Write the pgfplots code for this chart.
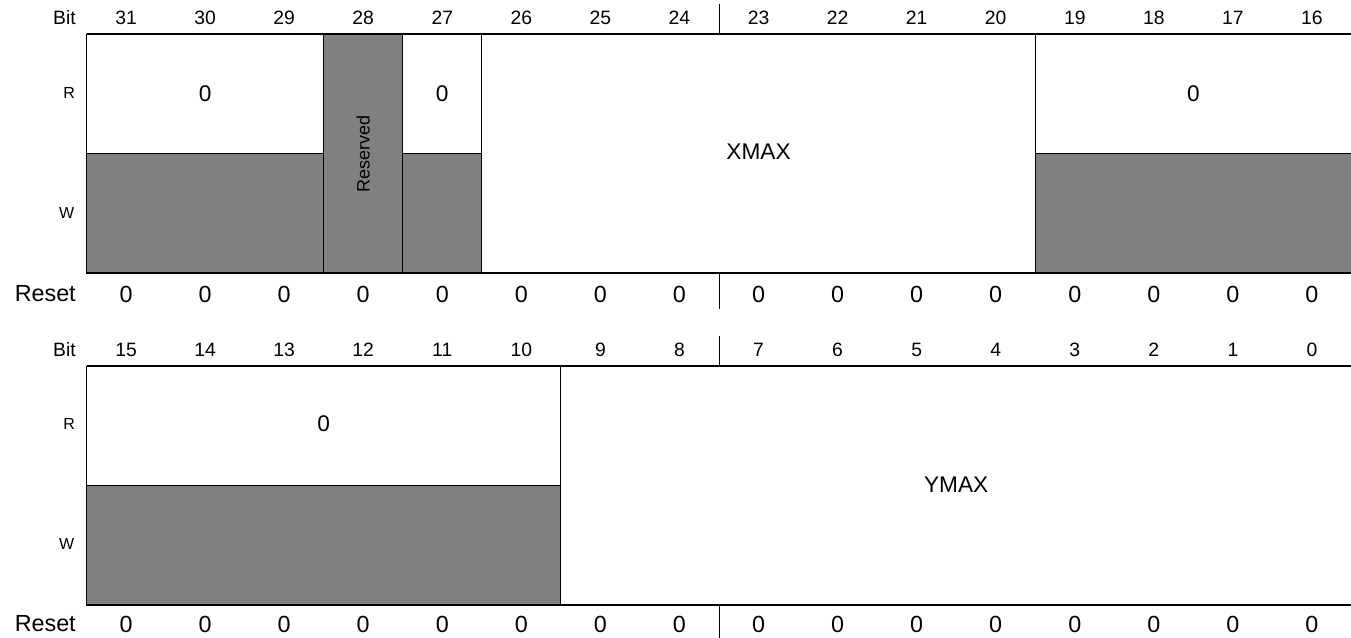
\documentclass[border=0pt]{standalone}
\usepackage{pgfplots}
\pgfplotsset{compat=1.18}
\usepackage{fontspec}
\setmainfont{Liberation Sans}
\definecolor{fieldgray}{HTML}{808080}
\begin{document}
\begin{tikzpicture}
\begin{axis}[width=1013.25pt, height=478.5pt, scale only axis,
  xmin=-1.0941, xmax=15.994, ymin=0, ymax=638, y dir=reverse,
  hide axis, clip=true]
% ---- top register fields (x in bit columns from bit 31, y in px) ----
\addplot[draw=black, line width=0.8pt, fill=white] coordinates {(0,34)(3,34)(3,153.5)(0,153.5)(0,34)};
\addplot[draw=black, line width=0.8pt, fill=fieldgray] coordinates {(0,153.5)(3,153.5)(3,273)(0,273)(0,153.5)};
\addplot[draw=black, line width=0.8pt, fill=fieldgray] coordinates {(3,34)(4,34)(4,273)(3,273)(3,34)};
\addplot[draw=black, line width=0.8pt, fill=white] coordinates {(4,34)(5,34)(5,153.5)(4,153.5)(4,34)};
\addplot[draw=black, line width=0.8pt, fill=fieldgray] coordinates {(4,153.5)(5,153.5)(5,273)(4,273)(4,153.5)};
\addplot[draw=black, line width=0.8pt, fill=white] coordinates {(5,34)(12,34)(12,273)(5,273)(5,34)};
\addplot[draw=black, line width=0.8pt, fill=white] coordinates {(12,34)(16,34)(16,153.5)(12,153.5)(12,34)};
\addplot[draw=black, line width=0.8pt, fill=fieldgray] coordinates {(12,153.5)(16,153.5)(16,273)(12,273)(12,153.5)};
% ---- bottom register fields ----
\addplot[draw=black, line width=0.8pt, fill=white] coordinates {(0,366)(6,366)(6,485.5)(0,485.5)(0,366)};
\addplot[draw=black, line width=0.8pt, fill=fieldgray] coordinates {(0,485.5)(6,485.5)(6,605)(0,605)(0,485.5)};
\addplot[draw=black, line width=0.8pt, fill=white] coordinates {(6,366)(16,366)(16,605)(6,605)(6,366)};
% ---- half-word dividers ----
\addplot[black, line width=0.7pt] coordinates {(8,4)(8,34)};
\addplot[black, line width=0.7pt] coordinates {(8,273)(8,309)};
\addplot[black, line width=0.7pt] coordinates {(8,336)(8,366)};
\addplot[black, line width=0.7pt] coordinates {(8,605)(8,638)};
% ---- bit numbers and reset values ----
\pgfplotsinvokeforeach{0,...,15}{
  \node[font=\fontsize{14.5}{17}\selectfont] at (axis cs:#1+0.5,18) {\pgfmathtruncatemacro\b{31-#1}\b};
  \node[font=\fontsize{14.5}{17}\selectfont] at (axis cs:#1+0.5,349.5) {\pgfmathtruncatemacro\b{15-#1}\b};
  \node[font=\fontsize{17.5}{20}\selectfont] at (axis cs:#1+0.5,294) {0};
  \node[font=\fontsize{17.5}{20}\selectfont] at (axis cs:#1+0.5,624) {0};
}
% ---- row labels ----
\node[anchor=east, inner sep=0pt, font=\fontsize{14.5}{17}\selectfont] at (axis cs:-0.133,18) {Bit};
\node[anchor=east, inner sep=0pt, font=\fontsize{14.5}{17}\selectfont] at (axis cs:-0.133,349.5) {Bit};
\node[anchor=east, inner sep=0pt, font=\fontsize{17.5}{20}\selectfont] at (axis cs:-0.133,294) {Reset};
\node[anchor=east, inner sep=0pt, font=\fontsize{17.5}{20}\selectfont] at (axis cs:-0.133,624) {Reset};
\node[font=\fontsize{12}{14}\selectfont] at (axis cs:-0.221,93) {R};
\node[font=\fontsize{12}{14}\selectfont] at (axis cs:-0.250,212.5) {W};
\node[font=\fontsize{12}{14}\selectfont] at (axis cs:-0.221,424) {R};
\node[font=\fontsize{12}{14}\selectfont] at (axis cs:-0.250,544) {W};
% ---- field names ----
\node[font=\fontsize{17}{20}\selectfont] at (axis cs:1.5,93.5) {0};
\node[font=\fontsize{17}{20}\selectfont] at (axis cs:4.5,93.5) {0};
\node[font=\fontsize{17}{20}\selectfont] at (axis cs:14,93.5) {0};
\node[font=\fontsize{17}{20}\selectfont] at (axis cs:8.5,152) {XMAX};
\node[font=\fontsize{13.5}{16}\selectfont, rotate=90] at (axis cs:3.5,154) {Reserved};
\node[font=\fontsize{17}{20}\selectfont] at (axis cs:3,424) {0};
\node[font=\fontsize{17}{20}\selectfont] at (axis cs:11,485) {YMAX};
\end{axis}
\pgfresetboundingbox
\path (current axis.south west) rectangle (current axis.north east);
\end{tikzpicture}
\end{document}
